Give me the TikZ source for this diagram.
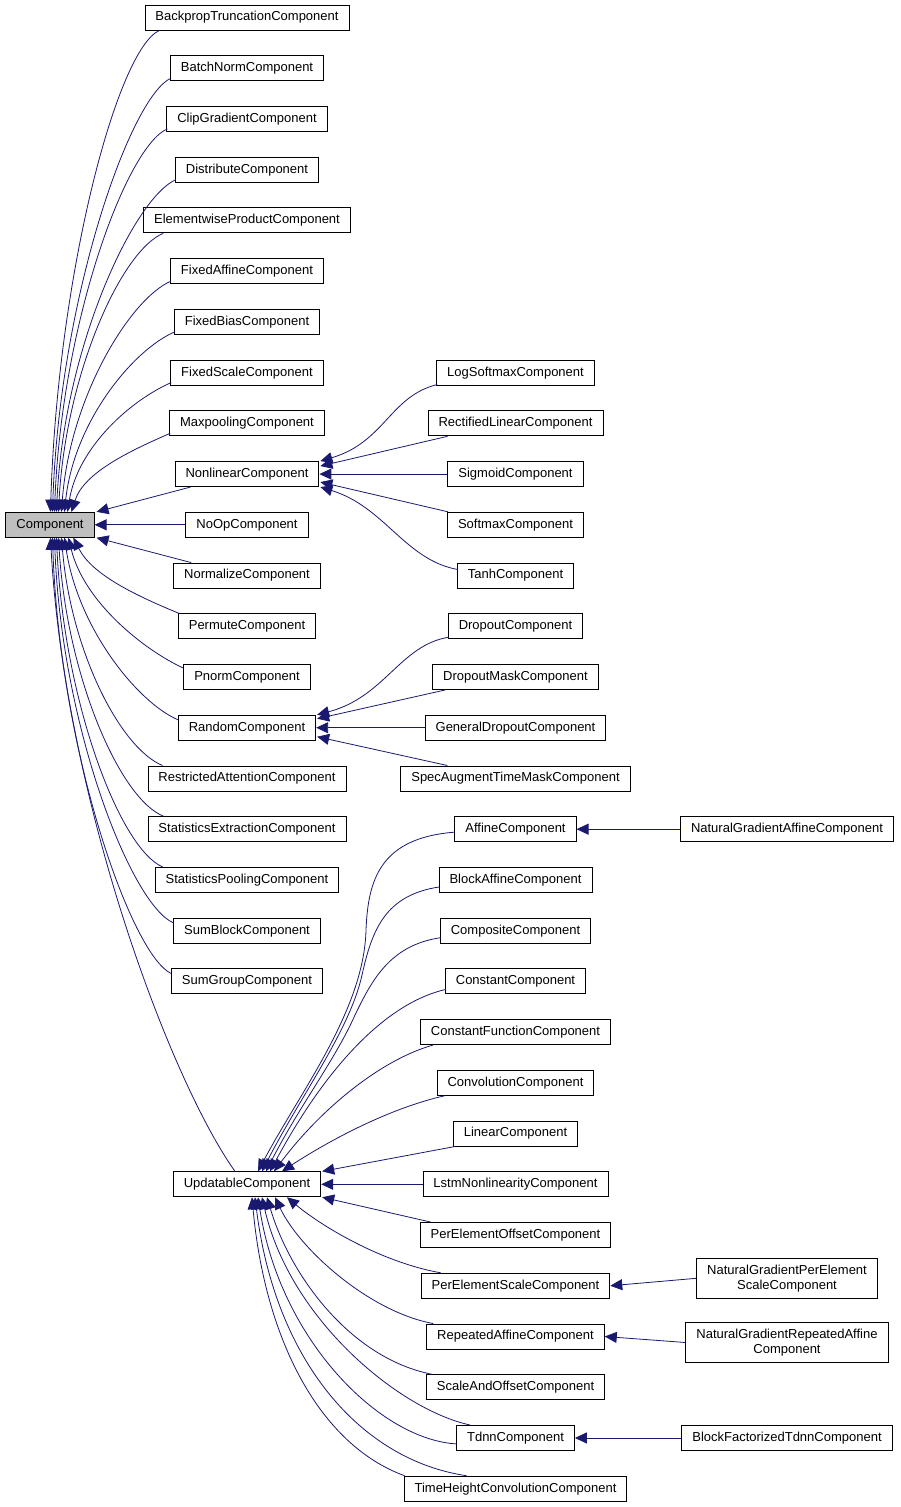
\documentclass[tikz,border=0pt]{standalone}
\usepackage{fontspec}
\setmainfont{Liberation Sans}
\usetikzlibrary{arrows.meta,calc}
\definecolor{edgeblue}{RGB}{25,25,112}
\definecolor{basegray}{RGB}{191,191,191}
\begin{document}
\begin{tikzpicture}[x=1pt,y=-1pt,
  cls/.style={draw=black, line width=0.9pt, fill=white, inner xsep=10.5pt, inner ysep=0pt,
    minimum height=25pt, font=\fontsize{13}{15}\selectfont, text height=9.5pt, text depth=2.7pt},
  cls2/.style={draw=black, line width=0.9pt, fill=white, inner xsep=10.5pt, inner ysep=4pt,
    minimum height=40pt, align=center, font=\fontsize{13}{15}\selectfont},
  inh/.style={draw=edgeblue, line width=0.8pt, {Triangle[length=12pt,width=11pt]}-}]
\useasboundingbox (0,0) rectangle (900,1507);
% left column
\node[cls, fill=basegray] (comp) at (50,524.8) {Component};
\node[cls] (bp) at (247,17.5) {BackpropTruncationComponent};
\node[cls] (bn) at (247,68.23) {BatchNormComponent};
\node[cls] (cg) at (247,118.96) {ClipGradientComponent};
\node[cls] (dc) at (247,169.69) {DistributeComponent};
\node[cls] (ep) at (247,220.42) {ElementwiseProductComponent};
\node[cls] (fa) at (247,271.15) {FixedAffineComponent};
\node[cls] (fb) at (247,321.88) {FixedBiasComponent};
\node[cls] (fs) at (247,372.61) {FixedScaleComponent};
\node[cls] (mp) at (247,423.34) {MaxpoolingComponent};
\node[cls] (nl) at (247,474.07) {NonlinearComponent};
\node[cls] (noop) at (247,524.8) {NoOpComponent};
\node[cls] (nrm) at (247,575.53) {NormalizeComponent};
\node[cls] (pm) at (247,626.26) {PermuteComponent};
\node[cls] (pn) at (247,676.99) {PnormComponent};
\node[cls] (rnd) at (247,727.72) {RandomComponent};
\node[cls] (ra) at (247,778.45) {RestrictedAttentionComponent};
\node[cls] (se) at (247,829.18) {StatisticsExtractionComponent};
\node[cls] (sp) at (247,879.91) {StatisticsPoolingComponent};
\node[cls] (sb) at (247,930.64) {SumBlockComponent};
\node[cls] (sg) at (247,981.37) {SumGroupComponent};
\node[cls] (upd) at (247,1184.29) {UpdatableComponent};
% right column
\node[cls] (lsm) at (515.5,372.61) {LogSoftmaxComponent};
\node[cls] (rl) at (515.5,423.34) {RectifiedLinearComponent};
\node[cls] (sig) at (515.5,474.07) {SigmoidComponent};
\node[cls] (smx) at (515.5,524.8) {SoftmaxComponent};
\node[cls] (tanh) at (515.5,575.53) {TanhComponent};
\node[cls] (dro) at (515.5,626.26) {DropoutComponent};
\node[cls] (drm) at (515.5,676.99) {DropoutMaskComponent};
\node[cls] (gdr) at (515.5,727.72) {GeneralDropoutComponent};
\node[cls] (sat) at (515.5,778.45) {SpecAugmentTimeMaskComponent};
\node[cls] (aff) at (515.5,829.18) {AffineComponent};
\node[cls] (baf) at (515.5,879.91) {BlockAffineComponent};
\node[cls] (cmp) at (515.5,930.64) {CompositeComponent};
\node[cls] (cst) at (515.5,981.37) {ConstantComponent};
\node[cls] (cfn) at (515.5,1032.1) {ConstantFunctionComponent};
\node[cls] (cnv) at (515.5,1082.83) {ConvolutionComponent};
\node[cls] (lin) at (515.5,1133.56) {LinearComponent};
\node[cls] (lstm) at (515.5,1184.29) {LstmNonlinearityComponent};
\node[cls] (peo) at (515.5,1235.02) {PerElementOffsetComponent};
\node[cls] (pes) at (515.5,1285.75) {PerElementScaleComponent};
\node[cls] (rep) at (515.5,1336.48) {RepeatedAffineComponent};
\node[cls] (sao) at (515.5,1387.21) {ScaleAndOffsetComponent};
\node[cls] (tdnn) at (515.5,1437.94) {TdnnComponent};
\node[cls] (thc) at (515.5,1488.67) {TimeHeightConvolutionComponent};
% far right
\node[cls] (nga) at (787,829.18) {NaturalGradientAffineComponent};
\node[cls2] (ngpes) at (787,1278.3) {NaturalGradientPerElement\\ScaleComponent};
\node[cls2] (ngrep) at (787,1342.5) {NaturalGradientRepeatedAffine\\Component};
\node[cls] (bft) at (787,1437.94) {BlockFactorizedTdnnComponent};
% edges to Component (above)
\draw[inh] ($(comp.north west)+(45,0)$) .. controls (58,271) and (118,48) .. ($(bp.south west)+(15,0)$);
\draw[inh] ($(comp.north west)+(47,0)$) .. controls (60,295) and (131,96) .. ($(bn.south west)+(1,-3)$);
\draw[inh] ($(comp.north west)+(49,0)$) .. controls (62,320) and (127,146) .. ($(cg.south west)+(1,-3)$);
\draw[inh] ($(comp.north west)+(51,0)$) .. controls (64,345) and (135,197) .. ($(dc.south west)+(1,-3)$);
\draw[inh] ($(comp.north west)+(53,0)$) .. controls (66,372) and (122,250) .. ($(ep.south west)+(20,0)$);
\draw[inh] ($(comp.north west)+(56,0)$) .. controls (70,396) and (131,298) .. ($(fa.south west)+(1,-3)$);
\draw[inh] ($(comp.north west)+(59,0)$) .. controls (74,421) and (134,349) .. ($(fb.south west)+(1,-3)$);
\draw[inh] ($(comp.north west)+(62,0)$) .. controls (78,447) and (131,400) .. ($(fs.south west)+(1,-3)$);
\draw[inh] ($(comp.north west)+(66,0)$) .. controls (84,472) and (132,450) .. ($(mp.south west)+(1,-3)$);
\draw[inh] ($(comp.north east)+(2,0)$) -- ($(nl.south west)+(16,0)$);
\draw[inh] (comp.east) -- (noop.west);
\draw[inh] ($(comp.south east)+(2,0)$) -- ($(nrm.north west)+(18,0)$);
% edges to Component (below)
\draw[inh] ($(comp.south west)+(68,0)$) .. controls (92,575) and (137,596) .. ($(pm.north west)+(1,0)$);
\draw[inh] ($(comp.south west)+(63,0)$) .. controls (84,602) and (144,650) .. ($(pn.north west)+(0,4)$);
\draw[inh] ($(comp.south west)+(59,0)$) .. controls (78,628) and (137,702) .. ($(rnd.north west)+(0,5)$);
\draw[inh] ($(comp.south west)+(56,0)$) .. controls (71,651) and (120,748) .. ($(ra.north west)+(15,0)$);
\draw[inh] ($(comp.south west)+(53,0)$) .. controls (67,677) and (120,799) .. ($(se.north west)+(16,0)$);
\draw[inh] ($(comp.south west)+(51,0)$) .. controls (64,702) and (120,849) .. ($(sp.north west)+(8,0)$);
\draw[inh] ($(comp.south west)+(49,0)$) .. controls (62,730) and (132,905) .. ($(sb.north west)+(0,5)$);
\draw[inh] ($(comp.south west)+(47,0)$) .. controls (60,755) and (132,955) .. ($(sg.north west)+(0,5)$);
\draw[inh] ($(comp.south west)+(45,0)$) .. controls (65,800) and (170,1080) .. ($(upd.north)+(-12,0)$);
% Nonlinear children
\draw[inh] ($(nl.north east)+(1,0)$) .. controls (385,442) and (390,396) .. ($(lsm.south west)+(1,-1)$);
\draw[inh] ($(nl.east)+(1,-8)$) -- ($(rl.south west)+(20,0)$);
\draw[inh] (nl.east) -- (sig.west);
\draw[inh] ($(nl.east)+(1,8)$) -- ($(smx.north west)+(1,0)$);
\draw[inh] ($(nl.south east)+(1,0)$) .. controls (385,507) and (405,560) .. ($(tanh.west)+(1,-6)$);
% Random children
\draw[inh] ($(rnd.north east)+(1,0)$) .. controls (385,697) and (400,645) .. ($(dro.south west)+(1,-2)$);
\draw[inh] ($(rnd.east)+(1,-9)$) -- ($(drm.south west)+(13,0)$);
\draw[inh] (rnd.east) -- (gdr.west);
\draw[inh] ($(rnd.east)+(1,9)$) -- ($(sat.north west)+(47,0)$);
% Updatable children
\draw[inh] ($(upd.north)+(11,0)$) .. controls (300,1092) and (364,1010) .. (366,930) .. controls (368,880) and (380,838) .. ($(aff.west)+(0,3)$);
\draw[inh] ($(upd.north)+(15,0)$) .. controls (300,1097) and (350,1030) .. (362,975) .. controls (372,930) and (385,895) .. ($(baf.west)+(1,7)$);
\draw[inh] ($(upd.north)+(19,0)$) .. controls (300,1105) and (335,1060) .. (355,1015) .. controls (372,980) and (390,945) .. ($(cmp.west)+(1,7)$);
\draw[inh] ($(upd.north)+(23,0)$) .. controls (330,1060) and (390,1002) .. ($(cst.west)+(1,8)$);
\draw[inh] ($(upd.north)+(27,0)$) .. controls (320,1110) and (380,1060) .. ($(cfn.south west)+(13,0)$);
\draw[inh] ($(upd.north)+(35,0)$) .. controls (330,1140) and (390,1108) .. ($(cnv.south west)+(8,0)$);
\draw[inh] ($(upd.north east)+(1,0)$) -- ($(lin.south west)+(2,0)$);
\draw[inh] (upd.east) -- (lstm.west);
\draw[inh] ($(upd.south east)+(1,0)$) -- ($(peo.north west)+(11,0)$);
\draw[inh] ($(upd.south)+(40,0)$) .. controls (320,1225) and (380,1262) .. ($(pes.north west)+(20,0)$);
\draw[inh] ($(upd.south)+(28,0)$) .. controls (300,1250) and (370,1312) .. ($(rep.north west)+(7,0)$);
\draw[inh] ($(upd.south)+(20,0)$) .. controls (290,1275) and (350,1358) .. ($(sao.north west)+(6,0)$);
\draw[inh] ($(upd.south)+(15,0)$) .. controls (290,1320) and (400,1410) .. ($(tdnn.north west)+(14,0)$);
\draw[inh] ($(upd.south)+(11,0)$) .. controls (280,1340) and (380,1440) .. ($(tdnn.west)+(1,6)$);
\draw[inh] ($(upd.south)+(8,0)$) .. controls (275,1360) and (360,1460) .. ($(thc.north west)+(63,0)$);
\draw[inh] ($(upd.south)+(5,0)$) .. controls (265,1340) and (320,1445) .. ($(thc.north west)+(1,0)$);
% far right
\draw[inh] (aff.east) -- (nga.west);
\draw[inh] (pes.east) -- (ngpes.west);
\draw[inh] (rep.east) -- (ngrep.west);
\draw[inh] (tdnn.east) -- (bft.west);
\end{tikzpicture}
\end{document}
